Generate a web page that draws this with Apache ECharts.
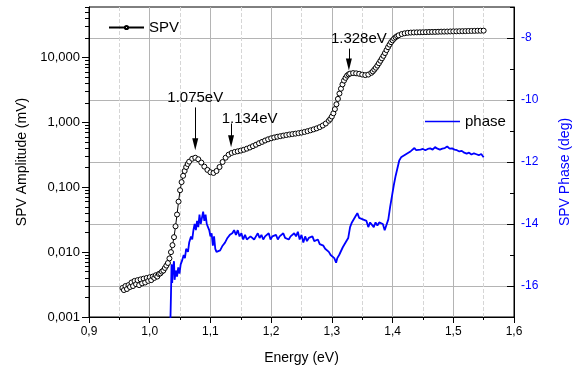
<!DOCTYPE html>
<html>
<head>
<meta charset="utf-8">
<script src="https://cdn.jsdelivr.net/npm/echarts@6/dist/echarts.min.js"></script>
<style>
  html, body { margin: 0; padding: 0; background: #fff; }
  #chart { width: 585px; height: 371px; }
</style>
</head>
<body>
<div id="chart"></div>
<script>
// SPV amplitude (mV) vs photon energy (eV)
const energy = [
  0.9550, 0.9575, 0.9600, 0.9625, 0.9650, 0.9675, 0.9700, 0.9725, 0.9750, 0.9775,
  0.9800, 0.9825, 0.9850, 0.9875, 0.9900, 0.9925, 0.9950, 0.9975, 1.0000, 1.0025,
  1.0050, 1.0075, 1.0100, 1.0125, 1.0150, 1.0175, 1.0200, 1.0225, 1.0250, 1.0275,
  1.0300, 1.0325, 1.0350, 1.0375, 1.0400, 1.0425, 1.0450, 1.0475, 1.0500, 1.0525,
  1.0550, 1.0575, 1.0600, 1.0625, 1.0650,
  1.070, 1.075, 1.080, 1.085, 1.090, 1.095, 1.100, 1.105, 1.110, 1.115,
  1.120, 1.125, 1.130, 1.135, 1.140, 1.145, 1.150, 1.155, 1.160, 1.165,
  1.170, 1.175, 1.180, 1.185, 1.190, 1.195, 1.200, 1.205, 1.210, 1.215,
  1.220, 1.225, 1.230, 1.235, 1.240, 1.245, 1.250, 1.255, 1.260, 1.265,
  1.270, 1.275, 1.280, 1.285, 1.290,
  1.2950, 1.2975, 1.3000, 1.3025, 1.3050, 1.3075, 1.3100, 1.3125, 1.3150, 1.3175,
  1.3200, 1.3225, 1.3250, 1.3275, 1.3300,
  1.335, 1.340, 1.345, 1.350, 1.355, 1.360,
  1.3650, 1.3675, 1.3700, 1.3725, 1.3750, 1.3775, 1.3800, 1.3825, 1.3850, 1.3875,
  1.3900, 1.3925, 1.3950, 1.3975, 1.4000, 1.4025, 1.4050, 1.4075, 1.4100,
  1.415, 1.420, 1.425, 1.430, 1.435, 1.440, 1.445, 1.450, 1.455, 1.460,
  1.465, 1.470, 1.475, 1.480, 1.485, 1.490, 1.495, 1.500, 1.505, 1.510,
  1.515, 1.520, 1.525, 1.530, 1.535, 1.540, 1.545, 1.550
];
const spvAmplitude = [
  0.0028, 0.0026, 0.0030, 0.0027, 0.0031, 0.0029, 0.0034, 0.0030, 0.0036, 0.0032,
  0.0037, 0.0031, 0.0038, 0.0033, 0.0039, 0.0034, 0.0040, 0.0036, 0.0041, 0.0037,
  0.0042, 0.0040, 0.0044, 0.0042, 0.0046, 0.0047, 0.0050, 0.0052, 0.0057, 0.0062,
  0.0068, 0.0080, 0.0100, 0.0128, 0.0170, 0.025, 0.038, 0.060, 0.090, 0.120,
  0.150, 0.178, 0.205, 0.228, 0.248,
  0.275, 0.285, 0.270, 0.240, 0.208, 0.185, 0.170, 0.166, 0.178, 0.205,
  0.245, 0.285, 0.318, 0.338, 0.350, 0.358, 0.367, 0.378, 0.393, 0.410,
  0.430, 0.452, 0.477, 0.500, 0.525, 0.548, 0.568, 0.585, 0.600, 0.612,
  0.625, 0.638, 0.650, 0.660, 0.670, 0.682, 0.695, 0.712, 0.732, 0.755,
  0.780, 0.808, 0.845, 0.895, 0.960,
  1.06, 1.13, 1.23, 1.38, 1.60, 1.90, 2.30, 2.78, 3.30, 3.85,
  4.40, 4.85, 5.25, 5.50, 5.65,
  5.75, 5.70, 5.60, 5.45, 5.35, 5.45,
  5.80, 6.10, 6.50, 6.95, 7.50, 8.15, 8.90, 9.70, 10.60, 11.70,
  13.00, 14.40, 15.80, 17.20, 18.40, 19.50, 20.50, 21.30, 22.00,
  23.00, 23.60, 24.00, 24.20, 24.30, 24.40, 24.45, 24.50, 24.60, 24.70,
  24.75, 24.80, 24.90, 25.00, 25.05, 25.10, 25.20, 25.25, 25.30, 25.40,
  25.45, 25.50, 25.60, 25.65, 25.70, 25.80, 25.85, 25.90
];

// SPV phase (deg) vs photon energy (eV)
const phaseEnergy = [
  1.034, 1.035, 1.036, 1.037, 1.038, 1.040, 1.041, 1.043, 1.045, 1.047,
  1.049, 1.051, 1.053, 1.056, 1.058, 1.060, 1.063, 1.065, 1.068, 1.070,
  1.072, 1.074, 1.076, 1.078, 1.080, 1.082, 1.084, 1.086, 1.088, 1.090,
  1.092, 1.094, 1.096, 1.098, 1.100, 1.102, 1.104, 1.106, 1.108, 1.110,
  1.113, 1.116, 1.120, 1.124, 1.128, 1.132, 1.136, 1.139, 1.142, 1.145,
  1.148, 1.151, 1.154, 1.157, 1.160, 1.163, 1.166, 1.169, 1.172, 1.175,
  1.178, 1.181, 1.184, 1.187, 1.190, 1.193, 1.196, 1.199, 1.202, 1.205,
  1.208, 1.211, 1.214, 1.217, 1.220, 1.223, 1.226, 1.229, 1.232, 1.235,
  1.238, 1.241, 1.244, 1.247, 1.250, 1.253, 1.256, 1.259, 1.262, 1.265,
  1.268, 1.271, 1.274, 1.277, 1.280, 1.283, 1.286, 1.289, 1.292, 1.295,
  1.298, 1.301, 1.304, 1.307, 1.309, 1.312, 1.315, 1.318, 1.321, 1.324,
  1.327, 1.330, 1.333, 1.336, 1.339, 1.342, 1.345, 1.348, 1.351, 1.354,
  1.357, 1.360, 1.363, 1.366, 1.369, 1.372, 1.375, 1.378, 1.381, 1.384,
  1.387, 1.390, 1.393, 1.396, 1.399, 1.402, 1.405, 1.408, 1.411, 1.414,
  1.418, 1.422, 1.426, 1.430, 1.433, 1.436, 1.439, 1.442, 1.446, 1.450,
  1.454, 1.458, 1.462, 1.466, 1.470, 1.474, 1.478, 1.482, 1.486, 1.490,
  1.494, 1.498, 1.502, 1.506, 1.510, 1.514, 1.518, 1.522, 1.526, 1.530,
  1.534, 1.538, 1.542, 1.546, 1.550
];
const phaseDeg = [
  -17.2, -16.3, -15.3, -15.9, -15.5, -15.2, -15.8, -15.5, -15.7, -15.4,
  -15.6, -15.3, -15.2, -15.0, -15.1, -14.8, -14.9, -14.6, -14.4, -14.5,
  -14.2, -14.0, -14.2, -13.9, -14.1, -13.7, -14.0, -13.8, -13.6, -13.9,
  -13.7, -14.0, -14.1, -14.2, -14.4, -14.3, -14.7, -14.4, -14.8, -14.9,
  -14.9, -14.85, -14.7, -14.6, -14.45, -14.35, -14.3, -14.2, -14.35, -14.2,
  -14.4, -14.3, -14.5, -14.35, -14.5, -14.45, -14.4, -14.35, -14.5, -14.4,
  -14.3, -14.45, -14.35, -14.5, -14.4, -14.45, -14.3, -14.5, -14.4, -14.45,
  -14.35, -14.5, -14.4, -14.45, -14.3, -14.45, -14.4, -14.5, -14.4, -14.45,
  -14.3, -14.4, -14.25, -14.5, -14.35, -14.6, -14.4, -14.55, -14.45, -14.5,
  -14.4, -14.55, -14.6, -14.5, -14.65, -14.6, -14.7, -14.8, -14.75, -14.9,
  -15.0, -14.95, -15.1, -15.25, -15.1, -15.0, -14.95, -14.75, -14.7, -14.55,
  -14.45, -14.1, -13.95, -14.0, -13.75, -13.65, -13.8, -13.8, -13.85, -13.8,
  -13.9, -14.1, -13.95, -14.0, -14.1, -13.95, -14.05, -13.95, -13.9, -14.0,
  -14.2, -14.15, -13.85, -13.45, -13.1, -12.75, -12.45, -12.2, -11.95, -11.85,
  -11.8, -11.75, -11.7, -11.65, -11.6, -11.55, -11.62, -11.58, -11.6, -11.58,
  -11.62, -11.58, -11.56, -11.6, -11.52, -11.57, -11.6, -11.57, -11.55, -11.5,
  -11.57, -11.56, -11.6, -11.62, -11.66, -11.64, -11.7, -11.73, -11.7, -11.76,
  -11.72, -11.75, -11.78, -11.74, -11.85
];

// tick values
const ampTicks = [0.001, 0.01, 0.1, 1, 10];
const phaseTicks = [-16, -14, -12, -10, -8];

// peak annotations: label, energy, arrow top / arrow head (mV)
const peakLabels = ['1.075eV', '1.134eV', '1.328eV'];
const peakEnergy = [1.075, 1.134, 1.328];
const arrowTop = [1.7, 0.96, 13.7];
const arrowHead = [0.46, 0.51, 7.8];

const ampMinorTicks = [];
ampTicks.forEach(d => { for (let k = 2; k <= 9; k++) ampMinorTicks.push(+(d * k).toPrecision(3)); });

const font = '"Liberation Sans", Arial, sans-serif';
const blue = '#0000ff';
const labelShift = [[0, 2], [37, -3], [20, 2]];

const chart = echarts.init(document.getElementById('chart'), null, { renderer: 'canvas' });

chart.setOption({
  animation: false,
  backgroundColor: '#fff',
  textStyle: { fontFamily: font },
  grid: {
    left: 89, right: 71, top: 7, bottom: 54,
    show: true, borderColor: '#000', borderWidth: 1, backgroundColor: 'transparent',
    containLabel: false, outerBoundsMode: 'none'
  },
  legend: [
    { data: ['SPV'], left: 108, top: 20, padding: 0, itemWidth: 35, itemHeight: 4,
      textStyle: { fontSize: 15, color: '#000', fontFamily: font } },
    { data: [{ name: 'phase', icon: 'rect' }], left: 425, top: 114, padding: 0, itemWidth: 35, itemHeight: 1.6,
      textStyle: { fontSize: 15, color: '#000', fontFamily: font } }
  ],
  xAxis: {
    type: 'value', min: 0.9, max: 1.6, interval: 0.1,
    name: 'Energy (eV)', nameLocation: 'middle', nameGap: 34,
    nameTextStyle: { fontSize: 14, color: '#000', fontFamily: font },
    axisLine: { show: true, onZero: false, lineStyle: { color: '#000', width: 1 } },
    axisTick: { show: true, inside: false, length: 6, lineStyle: { color: '#000' } },
    minorTick: { show: true, splitNumber: 2, length: 3, lineStyle: { color: '#000' } },
    axisLabel: { color: '#000', fontSize: 12, margin: 9, fontFamily: font,
      formatter: v => v.toFixed(1).replace('.', ',') },
    splitLine: { show: true, lineStyle: { color: '#b4b4b4', width: 1 } },
    minorSplitLine: { show: true, lineStyle: { color: '#d6d6d6', type: 'dashed', width: 1 } }
  },
  yAxis: [
    {
      type: 'log', logBase: 10, min: 0.001, max: 60, position: 'left',
      name: 'SPV Amplitude (mV)', nameLocation: 'middle', nameRotate: 90, nameGap: 58,
      nameTextStyle: { fontSize: 14, color: '#000', fontFamily: font },
      axisLine: { show: true, lineStyle: { color: '#000', width: 1 } },
      axisTick: { show: true, inside: false, length: 7, customValues: ampTicks, lineStyle: { color: '#000' } },
      axisLabel: { color: '#000', fontSize: 13, margin: 9, fontFamily: font, customValues: ampTicks,
        formatter: v => v.toFixed(3).replace('.', ',') },
      splitLine: { show: false }
    },
    {
      type: 'log', logBase: 10, min: 0.001, max: 60, position: 'left',
      axisLine: { show: false },
      axisTick: { show: true, inside: false, length: 4, customValues: ampMinorTicks, lineStyle: { color: '#000' } },
      axisLabel: { show: false },
      splitLine: { show: false }
    },
    {
      type: 'value', min: -17, max: -7, position: 'right',
      name: 'SPV Phase (deg)', nameLocation: 'middle', nameRotate: 90, nameGap: 44,
      nameTextStyle: { fontSize: 14, color: blue, fontFamily: font, padding: [0, 20, 0, 0] },
      axisLine: { show: true, lineStyle: { color: '#000', width: 1 } },
      axisTick: { show: true, inside: true, length: 7, customValues: phaseTicks, lineStyle: { color: '#000' } },
      axisLabel: { color: blue, fontSize: 12, margin: 7, fontFamily: font, customValues: phaseTicks },
      splitLine: { show: true, lineStyle: { color: '#b4b4b4', width: 1 } }
    },
    {
      type: 'value', min: -17, max: -7, interval: 1, position: 'right',
      axisLine: { show: false },
      axisTick: { show: true, inside: true, length: 4, lineStyle: { color: '#000' } },
      axisLabel: { show: false },
      splitLine: { show: false }
    }
  ],
  series: [
    {
      name: 'SPV', type: 'line', xAxisIndex: 0, yAxisIndex: 0,
      data: energy.map((e, i) => [e, spvAmplitude[i]]),
      symbol: 'circle', symbolSize: 5, showSymbol: true, showAllSymbol: true,
      itemStyle: { color: '#fff', borderColor: '#000', borderWidth: 1 },
      lineStyle: { color: '#000', width: 1 },
      z: 3,
      markLine: {
        silent: true, animation: false,
        symbol: ['none', 'triangle'], symbolSize: [0, 10],
        lineStyle: { color: '#000', width: 1, type: 'solid' },
        label: { show: true, position: 'start', fontSize: 15, color: '#000', fontFamily: font },
        data: peakEnergy.map((e, i) => [
          { coord: [e, arrowTop[i]],
            label: { formatter: peakLabels[i], distance: labelShift[i][1], padding: [0, 0, 0, labelShift[i][0]] } },
          { coord: [e, arrowHead[i]], symbol: 'triangle', symbolSize: [6, 12] }
        ])
      }
    },
    {
      name: 'phase', type: 'line', xAxisIndex: 0, yAxisIndex: 2,
      data: phaseEnergy.map((e, i) => [e, phaseDeg[i]]),
      symbol: 'none', clip: true,
      lineStyle: { color: blue, width: 1.8 },
      itemStyle: { color: blue },
      z: 2
    }
  ]
});
</script>
</body>
</html>
